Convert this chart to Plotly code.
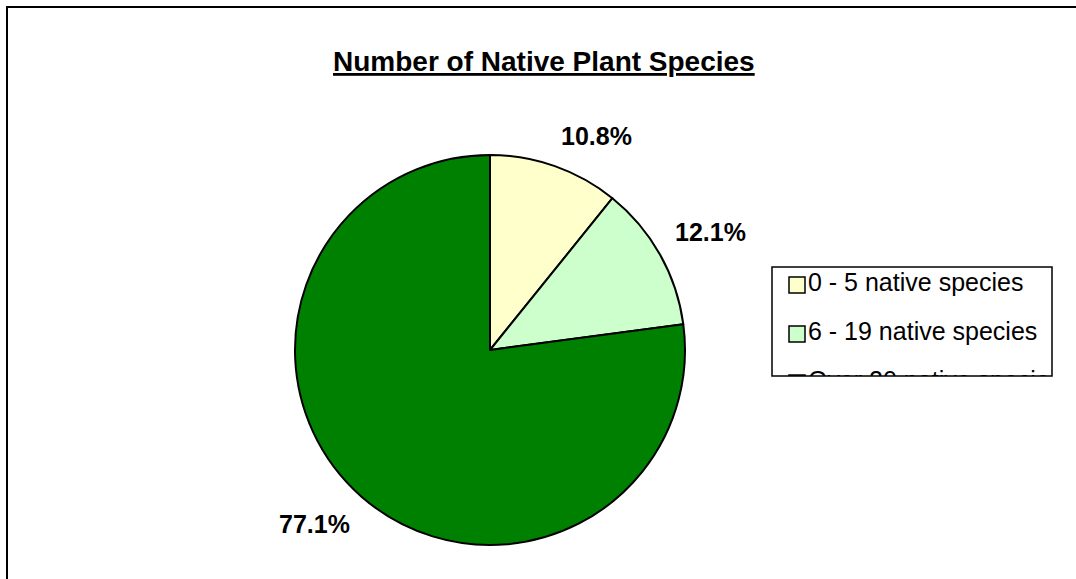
import math
import plotly.graph_objects as go

# Share of sites by number of native plant species
categories = ["0 - 5 native species", "6 - 19 native species", "Over 20 native species"]
shares = [10.8, 12.1, 77.1]
colors = ["#FFFFCC", "#CCFFCC", "#008000"]

W, H = 1076, 579
FONT = "Liberation Sans, Arial, sans-serif"

# pie geometry in pixels
cx, cy, r = 490, 350, 195


def px(x):
    return x / W


def py(y):
    return 1 - y / H


fig = go.Figure()

fig.add_trace(go.Pie(
    labels=categories,
    values=shares,
    marker=dict(colors=colors, line=dict(color="black", width=2)),
    sort=False,
    direction="clockwise",
    rotation=0,
    textinfo="none",
    hoverinfo="label+percent",
    showlegend=False,
    domain=dict(x=[px(cx - r), px(cx + r)], y=[py(cy + r), py(cy - r)]),
))

# percentage labels placed just outside each slice's mid-angle
annotations = []
total = sum(shares)
acc = 0.0
label_r = r + 16
for v in shares:
    mid = (acc + v / 2) / total * 2 * math.pi
    acc += v
    dx, dy = math.sin(mid), -math.cos(mid)
    lx, ly = cx + label_r * dx, cy + label_r * dy
    annotations.append(dict(
        x=px(lx), y=py(ly), xref="paper", yref="paper",
        text=f"<b>{v:.1f}%</b>", showarrow=False,
        xanchor="left" if dx >= 0 else "right",
        yanchor="bottom" if dy < 0 else "top",
        font=dict(family=FONT, size=25, color="black"),
        borderpad=0,
    ))

annotations.append(dict(
    x=px(544), y=py(62), xref="paper", yref="paper",
    text="<b><u>Number of Native Plant Species</u></b>", showarrow=False,
    xanchor="center", yanchor="middle",
    font=dict(family=FONT, size=28, color="black"),
))

# legend drawn in its own clipped subplot
lx0, lx1, ly0, ly1 = 772, 1052, 267, 376
item_y = [285, 334, 383]
fig.add_trace(go.Scatter(
    x=[797] * len(categories), y=item_y, mode="markers",
    marker=dict(symbol="square", size=16, color=colors, line=dict(color="black", width=1.5)),
    hoverinfo="skip", showlegend=False, xaxis="x", yaxis="y",
))
fig.add_trace(go.Scatter(
    x=[808] * len(categories), y=item_y, mode="text", text=categories,
    textposition="middle right",
    textfont=dict(family=FONT, size=25, color="black"),
    hoverinfo="skip", showlegend=False, xaxis="x", yaxis="y",
))

shapes = [
    # outer chart frame
    dict(type="rect", xref="paper", yref="paper",
         x0=px(7), x1=px(W + 10), y0=py(H + 10), y1=py(7),
         line=dict(color="black", width=2), fillcolor="rgba(0,0,0,0)"),
    # legend frame
    dict(type="rect", xref="paper", yref="paper",
         x0=px(lx0), x1=px(lx1), y0=py(ly1), y1=py(ly0),
         line=dict(color="black", width=1.5), fillcolor="rgba(0,0,0,0)"),
]

fig.update_layout(
    width=W, height=H,
    margin=dict(l=0, r=0, t=0, b=0),
    paper_bgcolor="white", plot_bgcolor="rgba(0,0,0,0)",
    xaxis=dict(domain=[px(lx0), px(lx1)], range=[lx0, lx1], visible=False, fixedrange=True),
    yaxis=dict(domain=[py(ly1), py(ly0)], range=[ly1, ly0], visible=False, fixedrange=True),
    annotations=annotations,
    shapes=shapes,
    showlegend=False,
)

fig.write_html("out.html")
